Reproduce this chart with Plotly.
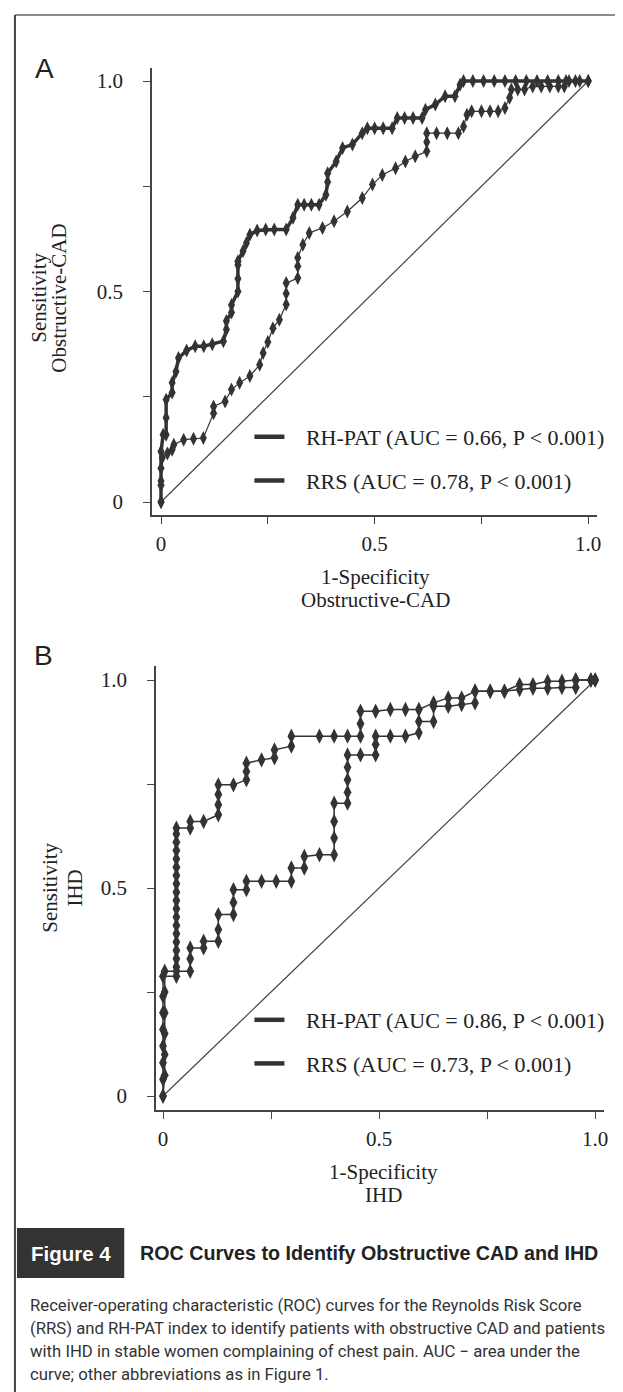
import plotly.graph_objects as go

W, H = 623, 1392

# ---------------- data (1-Specificity, Sensitivity) ----------------
# Panel A: Obstructive CAD
a_rrs_x = [0, 0, 0, 0, 0.005, 0.012, 0.012, 0.012, 0.026, 0.026, 0.035, 0.041, 0.06, 0.08, 0.1, 0.12,
           0.146, 0.153, 0.153, 0.165, 0.165, 0.18, 0.18, 0.18, 0.18, 0.192, 0.2, 0.208, 0.225, 0.245,
           0.265, 0.293, 0.309, 0.32, 0.335, 0.352, 0.37, 0.386, 0.39, 0.39, 0.41, 0.425, 0.448, 0.471,
           0.483, 0.5, 0.52, 0.541, 0.553, 0.57, 0.59, 0.611, 0.619, 0.642, 0.665, 0.688, 0.7, 0.708,
           0.73, 0.755, 0.78, 0.805, 0.83, 0.855, 0.88, 0.905, 0.93, 0.955, 0.98, 1.0]
a_rrs_y = [0, 0.04, 0.08, 0.12, 0.16, 0.16, 0.2, 0.243, 0.26, 0.283, 0.31, 0.342, 0.36, 0.37, 0.37, 0.375,
           0.382, 0.41, 0.43, 0.45, 0.468, 0.5, 0.53, 0.563, 0.572, 0.596, 0.615, 0.635, 0.645, 0.647,
           0.647, 0.647, 0.675, 0.706, 0.706, 0.706, 0.706, 0.73, 0.76, 0.781, 0.809, 0.841, 0.849, 0.876,
           0.888, 0.888, 0.888, 0.888, 0.912, 0.912, 0.912, 0.912, 0.932, 0.944, 0.964, 0.964, 0.991, 1.0,
           1.0, 1.0, 1.0, 1.0, 1.0, 1.0, 1.0, 1.0, 1.0, 1.0, 1.0, 1.0]

a_rhpat_x = [0, 0, 0.003, 0.015, 0.026, 0.03, 0.053, 0.076, 0.099, 0.123, 0.123, 0.15, 0.165, 0.184,
             0.208, 0.231, 0.239, 0.25, 0.262, 0.277, 0.293, 0.293, 0.293, 0.32, 0.32, 0.32, 0.332, 0.347,
             0.378, 0.405, 0.436, 0.471, 0.495, 0.518, 0.549, 0.572, 0.595, 0.622, 0.622, 0.622, 0.645,
             0.67, 0.696, 0.708, 0.716, 0.727, 0.75, 0.77, 0.789, 0.805, 0.816, 0.82, 0.835, 0.851, 0.87,
             0.89, 0.91, 0.93, 0.944, 0.948, 0.97, 1.0]
a_rhpat_y = [0, 0.05, 0.105, 0.115, 0.124, 0.136, 0.148, 0.15, 0.152, 0.211, 0.227, 0.239, 0.267, 0.283,
             0.299, 0.326, 0.354, 0.38, 0.413, 0.433, 0.469, 0.495, 0.52, 0.532, 0.56, 0.58, 0.611, 0.639,
             0.651, 0.667, 0.69, 0.722, 0.754, 0.777, 0.793, 0.809, 0.821, 0.833, 0.855, 0.876, 0.876,
             0.876, 0.876, 0.892, 0.92, 0.928, 0.928, 0.928, 0.928, 0.936, 0.96, 0.98, 0.98, 0.98, 0.987,
             0.987, 0.987, 0.987, 0.987, 1.0, 1.0, 1.0]

# Panel B: IHD
b_rhpat_x = [0, 0, 0, 0, 0, 0, 0, 0, 0.031, 0.031, 0.031, 0.031, 0.031, 0.031, 0.031, 0.031, 0.031,
             0.031, 0.031, 0.031, 0.031, 0.031, 0.031, 0.031, 0.031, 0.031, 0.031, 0.063, 0.063, 0.094,
             0.128, 0.128, 0.128, 0.128, 0.163, 0.193, 0.193, 0.193, 0.228, 0.258, 0.258, 0.297, 0.297,
             0.362, 0.396, 0.427, 0.457, 0.457, 0.457, 0.492, 0.526, 0.561, 0.592, 0.626, 0.66, 0.691,
             0.722, 0.757, 0.79, 0.825, 0.856, 0.89, 0.923, 0.955, 0.99, 1.0]
b_rhpat_y = [0, 0.04, 0.08, 0.12, 0.16, 0.2, 0.24, 0.288, 0.288, 0.31, 0.33, 0.35, 0.37, 0.39, 0.41,
             0.43, 0.45, 0.47, 0.49, 0.51, 0.53, 0.55, 0.57, 0.59, 0.61, 0.63, 0.644, 0.644, 0.66, 0.66,
             0.676, 0.7, 0.725, 0.748, 0.748, 0.76, 0.78, 0.8, 0.808, 0.813, 0.832, 0.841, 0.865,
             0.865, 0.865, 0.865, 0.865, 0.895, 0.925, 0.925, 0.929, 0.929, 0.929, 0.945, 0.957, 0.957,
             0.973, 0.973, 0.973, 0.989, 0.989, 0.997, 0.997, 1.0, 1.0, 1.0]

b_rrs_x = [0, 0.004, 0.004, 0.004, 0.004, 0.004, 0.004, 0.031, 0.063, 0.063, 0.063, 0.094, 0.094,
           0.128, 0.128, 0.128, 0.163, 0.163, 0.163, 0.193, 0.193, 0.228, 0.262, 0.297, 0.297, 0.327,
           0.327, 0.362, 0.396, 0.396, 0.396, 0.396, 0.427, 0.427, 0.427, 0.427, 0.427, 0.457, 0.492,
           0.492, 0.492, 0.526, 0.561, 0.592, 0.592, 0.626, 0.626, 0.66, 0.691, 0.722, 0.722, 0.757,
           0.79, 0.825, 0.856, 0.89, 0.923, 0.955, 0.955, 0.99, 1.0]
b_rrs_y = [0, 0.05, 0.1, 0.15, 0.2, 0.25, 0.3, 0.3, 0.3, 0.33, 0.356, 0.356, 0.372, 0.372, 0.4, 0.436,
           0.436, 0.465, 0.496, 0.496, 0.516, 0.516, 0.516, 0.516, 0.548, 0.548, 0.576, 0.58, 0.58, 0.62,
           0.66, 0.704, 0.704, 0.73, 0.76, 0.79, 0.82, 0.82, 0.82, 0.845, 0.865, 0.865, 0.865, 0.873,
           0.9, 0.9, 0.937, 0.937, 0.941, 0.945, 0.973, 0.973, 0.973, 0.977, 0.98, 0.98, 0.982, 0.982,
           1.0, 1.0, 1.0]

diag_x = [0, 1]
diag_y = [0, 1]

tick_vals = [0, 0.25, 0.5, 0.75, 1.0]
tick_text = ["0", "", "0.5", "", "1.0"]

legend_a = ["RH-PAT (AUC = 0.66, P < 0.001)", "RRS (AUC = 0.78, P < 0.001)"]
legend_b = ["RH-PAT (AUC = 0.86, P < 0.001)", "RRS (AUC = 0.73, P < 0.001)"]

caption_title = "ROC Curves to Identify Obstructive CAD and IHD"
caption_lines = [
    "Receiver-operating characteristic (ROC) curves for the Reynolds Risk Score",
    "(RRS) and RH-PAT index to identify patients with obstructive CAD and patients",
    "with IHD in stable women complaining of chest pain. AUC \u2212 area under the",
    "curve; other abbreviations as in Figure 1.",
]

# ---------------- styling ----------------
INK = "#333333"
LINE = "#444444"
SERIF = "Liberation Serif, Times New Roman, serif"
SANS = "Liberation Sans, Arial, sans-serif"
BODY = "Roboto, Liberation Sans, Arial, sans-serif"
GAP = "\u00a0\u00a0\u00a0"  # spacing between legend key and label


def px(xp):
    return xp / W


def py(yp):
    return 1 - yp / H


fig = go.Figure()

# diagonal references
fig.add_trace(go.Scatter(x=diag_x, y=diag_y, mode="lines", line=dict(color=LINE, width=1.2),
                         showlegend=False, xaxis="x", yaxis="y", hoverinfo="skip"))
fig.add_trace(go.Scatter(x=diag_x, y=diag_y, mode="lines", line=dict(color=LINE, width=1.2),
                         showlegend=False, xaxis="x2", yaxis="y2", hoverinfo="skip"))

# panel A curves
fig.add_trace(go.Scatter(x=a_rhpat_x, y=a_rhpat_y, mode="lines+markers",
                         line=dict(color=INK, width=1.2),
                         marker=dict(symbol="diamond-tall", size=10, color=INK),
                         showlegend=False, xaxis="x", yaxis="y", name=legend_a[0]))
fig.add_trace(go.Scatter(x=a_rrs_x, y=a_rrs_y, mode="lines+markers",
                         line=dict(color=INK, width=3.5),
                         marker=dict(symbol="diamond-tall", size=10, color=INK),
                         showlegend=False, xaxis="x", yaxis="y", name=legend_a[1]))

# panel B curves
fig.add_trace(go.Scatter(x=b_rhpat_x, y=b_rhpat_y, mode="lines+markers",
                         line=dict(color=INK, width=1.5),
                         marker=dict(symbol="diamond-tall", size=11, color=INK),
                         showlegend=False, xaxis="x2", yaxis="y2", name=legend_b[0]))
fig.add_trace(go.Scatter(x=b_rrs_x, y=b_rrs_y, mode="lines+markers",
                         line=dict(color=INK, width=1.5),
                         marker=dict(symbol="diamond-tall", size=11, color=INK),
                         showlegend=False, xaxis="x2", yaxis="y2", name=legend_b[1]))

# legend entries (line keys only)
for i, name in enumerate(legend_a):
    fig.add_trace(go.Scatter(x=[None], y=[None], mode="lines", line=dict(color=INK, width=4.5),
                             name=GAP + name, legend="legend", legendgroup="a%d" % i,
                             xaxis="x", yaxis="y"))
for i, name in enumerate(legend_b):
    fig.add_trace(go.Scatter(x=[None], y=[None], mode="lines", line=dict(color=INK, width=4.5),
                             name=GAP + name, legend="legend2", legendgroup="b%d" % i,
                             xaxis="x2", yaxis="y2"))

axis_common = dict(
    showline=True, linecolor=LINE, linewidth=1.5, mirror=False,
    ticks="outside", ticklen=7, tickwidth=1.2, tickcolor=LINE,
    tickvals=tick_vals, ticktext=tick_text,
    showgrid=False, zeroline=False, fixedrange=True,
    tickfont=dict(family=SERIF, size=21, color="#222222"),
)

legend_common = dict(
    xanchor="left", yanchor="top", bgcolor="rgba(0,0,0,0)",
    font=dict(family=SERIF, size=22, color="#222222"),
    tracegroupgap=12, traceorder="grouped", itemclick=False, itemdoubleclick=False,
)

fig.update_layout(
    width=W, height=H,
    margin=dict(l=0, r=0, t=0, b=0),
    paper_bgcolor="white", plot_bgcolor="rgba(0,0,0,0)",
    xaxis=dict(domain=[px(145), px(593)], range=[-9 / 430, 439 / 430], anchor="y",
               ticklabelstandoff=2, **axis_common),
    yaxis=dict(domain=[py(507), py(60)], range=[-13 / 421, 434 / 421], anchor="x",
               ticklabelstandoff=16, **axis_common),
    xaxis2=dict(domain=[px(149), px(600)], range=[-7 / 435, 444 / 435], anchor="y2",
                ticklabelstandoff=2, **axis_common),
    yaxis2=dict(domain=[py(1102), py(658)], range=[-14 / 416, 430 / 416], anchor="x2",
                ticklabelstandoff=16, **axis_common),
    legend=dict(x=px(243), y=py(408), **legend_common),
    legend2=dict(x=px(243), y=py(991), **legend_common),
    showlegend=True,
)

annotations = []


def note(text, x, y, size=21, family=SERIF, angle=0, xanchor="center", color="#222222"):
    annotations.append(dict(text=text, x=px(x), y=py(y), xref="paper", yref="paper",
                            showarrow=False, textangle=angle, xanchor=xanchor, yanchor="middle",
                            font=dict(family=family, size=size, color=color)))


# panel letters
note("A", 37, 60, size=28, family=SANS)
note("B", 36, 648, size=28, family=SANS)

# axis titles panel A
note("Sensitivity", 31, 290, angle=-90)
note("Obstructive-CAD", 51, 290, angle=-90)
note("1-Specificity", 370, 569)
note("Obstructive-CAD", 370, 592)

# axis titles panel B
note("Sensitivity", 42, 880, angle=-90)
note("IHD", 67, 880, angle=-90)
note("1-Specificity", 378, 1164)
note("IHD", 378, 1187)

# caption
note("<b>Figure 4</b>", 63, 1245, size=20.5, family=SANS, color="white")
note("<b>" + caption_title + "</b>", 131, 1245, size=19.7, family=SANS, xanchor="left", color="#222222")
for i, line in enumerate(caption_lines):
    note(line, 20, 1297 + 23 * i, size=16.7, family=BODY, xanchor="left", color="#333333")

fig.update_layout(annotations=annotations)

fig.update_layout(shapes=[
    dict(type="line", xref="paper", yref="paper", x0=px(7), x1=px(623), y0=py(7), y1=py(7),
         line=dict(color="#666666", width=1.5)),
    dict(type="line", xref="paper", yref="paper", x0=px(7), x1=px(7), y0=py(7), y1=py(1392),
         line=dict(color="#444444", width=2)),
    dict(type="rect", xref="paper", yref="paper", x0=px(9), x1=px(117), y0=py(1270), y1=py(1220),
         fillcolor="#333333", line=dict(width=0), layer="below"),
])

fig.write_html("out.html")
